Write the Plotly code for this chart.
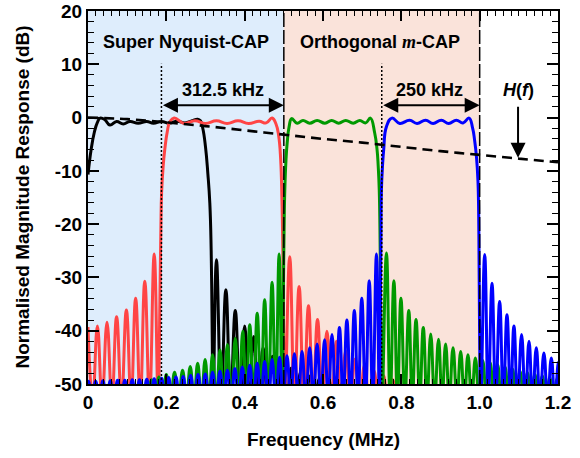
import plotly.graph_objects as go

# ---------------- axis ticks ----------------
x_tickvals = [0, 0.2, 0.4, 0.6, 0.8, 1.0, 1.2]
x_ticktext = ["0", "0.2", "0.4", "0.6", "0.8", "1.0", "1.2"]
y_tickvals = [20, 10, 0, -10, -20, -30, -40, -50]
y_ticktext = ["20", "10", "0", "-10", "-20", "-30", "-40", "-50"]

NULL_DB = -53     # spectral nulls lie just below the visible range

# ---------------- black: super-Nyquist band 1 ----------------
black_band_f = [0.000, 0.008, 0.016, 0.024, 0.031, 0.043, 0.056, 0.073, 0.090, 0.107, 0.128, 0.150,
                0.167, 0.188, 0.207, 0.228, 0.248, 0.266, 0.280, 0.287, 0.293, 0.300, 0.306, 0.311,
                0.3145, 0.317]
black_band_db = [-10.7, -6.0, -2.8, -0.9, -0.1, -0.4, -1.4, -0.75, -1.2, -0.75, -1.05, -0.75,
                 -1.05, -0.75, -1.05, -0.7, -1.0, -0.6, -0.3, -0.6, -2.0, -5.5, -10.5, -16.0,
                 -25.0, -40.0]
black_lobe_f = [0.328, 0.352, 0.376, 0.400, 0.423, 0.447, 0.471, 0.495, 0.519, 0.543, 0.567, 0.591,
                0.615, 0.639]
black_lobe_db = [-26.7, -32.3, -36.2, -39.1, -41.1, -43.2, -44.8, -46.0, -47.0, -47.8, -48.5, -49.0,
                 -49.4, -49.6]
black_null_f = [0.3195, 0.340, 0.364, 0.388, 0.4115, 0.435, 0.459, 0.483, 0.507, 0.531, 0.555, 0.579,
                0.603, 0.627, 0.651]

# ---------------- red: super-Nyquist band 2 ----------------
red_band_f = [0.1835, 0.186, 0.188, 0.192, 0.196, 0.2025, 0.209, 0.220, 0.246, 0.273, 0.300, 0.328,
              0.355, 0.383, 0.410, 0.437, 0.455, 0.470, 0.480, 0.487, 0.492, 0.495, 0.4975, 0.4995]
red_band_db = [-35.0, -21.0, -14.0, -9.0, -6.0, -2.6, -0.8, -0.1, -1.1, -0.6, -1.1, -0.6,
               -1.1, -0.6, -1.1, -0.7, -1.0, -0.1, -1.2, -3.5, -8.0, -15.0, -25.0, -40.0]
red_lobe_f = [0.000, 0.024, 0.0485, 0.073, 0.098, 0.1216, 0.145, 0.169,
              0.515, 0.539, 0.563, 0.586, 0.610, 0.634, 0.658, 0.682, 0.706, 0.730, 0.754, 0.778]
red_lobe_db = [-39.3, -39.1, -38.4, -37.4, -36.1, -33.9, -30.7, -25.6,
               -26.1, -31.7, -35.3, -37.9, -40.1, -42.0, -43.8, -45.3, -46.5, -47.5, -48.4, -49.2]
red_null_f = [0.012, 0.036, 0.061, 0.0855, 0.110, 0.1333, 0.157, 0.179,
              0.503, 0.527, 0.551, 0.5745, 0.598, 0.622, 0.646, 0.670, 0.694, 0.718, 0.742, 0.766, 0.790]

# ---------------- green: orthogonal m-CAP band 1 ----------------
green_band_f = [0.4985, 0.5005, 0.5025, 0.5055, 0.5085, 0.5135, 0.520, 0.534, 0.549, 0.566, 0.585,
                0.605, 0.622, 0.640, 0.658, 0.677, 0.694, 0.709, 0.721, 0.732, 0.738, 0.741, 0.7436,
                0.746, 0.748]
green_band_db = [-35.0, -22.0, -13.6, -8.0, -4.8, -1.7, -0.2, -1.05, -0.55, -1.05, -0.55,
                 -1.05, -0.55, -1.05, -0.55, -1.05, -0.55, -1.0, -0.1, -2.9, -6.0, -9.2, -13.6,
                 -25.0, -40.0]
green_lobe_f = [0.162, 0.181, 0.200, 0.221, 0.2415, 0.261, 0.280, 0.299, 0.318, 0.337, 0.356, 0.376,
                0.395, 0.413, 0.432, 0.451, 0.470, 0.488,
                0.762, 0.781, 0.799, 0.819, 0.8375, 0.856, 0.875, 0.895, 0.913, 0.932, 0.9515, 0.970,
                0.989, 1.008, 1.027, 1.046, 1.065, 1.084, 1.103, 1.122, 1.141, 1.160, 1.179, 1.198]
green_lobe_db = [-49.2, -48.7, -48.2, -47.8, -47.4, -46.7, -46.1, -45.4, -44.5, -43.6, -42.6, -41.4,
                 -40.1, -38.9, -36.7, -34.2, -30.9, -25.6,
                 -25.4, -30.6, -33.9, -36.2, -37.9, -39.4, -40.6, -41.6, -42.5, -43.2, -43.9, -44.5,
                 -45.1, -45.6, -46.0, -46.4, -46.8, -47.2, -47.6, -47.9, -48.2, -48.5, -48.8, -49.0]
green_null_f = [0.152, 0.1715, 0.1905, 0.2105, 0.231, 0.251, 0.2705, 0.2895, 0.3085, 0.3275, 0.3465,
                0.366, 0.3855, 0.404, 0.4225, 0.4415, 0.4605, 0.479, 0.4955,
                0.751, 0.7715, 0.790, 0.809, 0.828, 0.847, 0.8655, 0.885, 0.904, 0.9225, 0.942, 0.961,
                0.9795, 0.9985, 1.0175, 1.0365, 1.0555, 1.0745, 1.0935, 1.1125, 1.1315, 1.1505,
                1.1695, 1.1885, 1.2075]

# ---------------- blue: orthogonal m-CAP band 2 ----------------
blue_band_f = [0.7465, 0.748, 0.749, 0.752, 0.755, 0.762, 0.776, 0.796, 0.821, 0.840, 0.862, 0.881,
               0.902, 0.921, 0.9405, 0.9575, 0.973, 0.982, 0.987, 0.992, 0.9957, 0.998, 0.9995]
blue_band_db = [-35.0, -22.0, -14.0, -9.0, -6.0, -1.7, -0.1, -1.1, -0.5, -1.1, -0.5, -1.1,
                -0.5, -1.1, -0.5, -1.0, -0.1, -2.0, -4.2, -7.5, -12.0, -22.0, -38.0]
blue_lobe_f = [0.001, 0.0195, 0.038, 0.057, 0.0755, 0.094, 0.113, 0.1315, 0.150, 0.169, 0.188, 0.206,
               0.2245, 0.243, 0.262, 0.281, 0.2995, 0.318, 0.337, 0.356, 0.375, 0.394, 0.413, 0.432,
               0.451, 0.470, 0.489, 0.508, 0.527, 0.5465, 0.566, 0.585, 0.604, 0.623, 0.642, 0.661,
               0.680, 0.699, 0.718, 0.7365,
               1.0128, 1.0315, 1.051, 1.0697, 1.0875, 1.107, 1.126, 1.1446, 1.164, 1.183, 1.2015]
blue_lobe_db = [-49.5, -49.5, -49.4, -49.4, -49.3, -49.3, -49.2, -49.2, -49.1, -49.0, -48.9, -48.8,
                -48.7, -48.6, -48.4, -48.2, -48.1, -47.8, -47.6, -47.4, -47.1, -46.8, -46.5, -46.1,
                -45.8, -45.4, -45.0, -44.7, -44.3, -43.9, -43.2, -42.5, -41.7, -40.7, -39.4, -38.0,
                -36.2, -33.9, -30.6, -25.6,
                -25.7, -31.1, -34.5, -37.0, -39.1, -40.7, -42.0, -43.2, -44.2, -45.1, -45.9]
blue_null_f = [-0.008, 0.010, 0.029, 0.0475, 0.066, 0.085, 0.1035, 0.122, 0.141, 0.1595, 0.1785, 0.197,
               0.215, 0.234, 0.2525, 0.2715, 0.290, 0.309, 0.3275, 0.3465, 0.3655, 0.3845, 0.4035,
               0.4225, 0.4415, 0.4605, 0.4795, 0.4985, 0.5175, 0.537, 0.556, 0.5755, 0.5945, 0.6135,
               0.6325, 0.6515, 0.6705, 0.6895, 0.7085, 0.727, 0.744,
               1.003, 1.022, 1.041, 1.0605, 1.079, 1.097, 1.1165, 1.135, 1.154, 1.1735, 1.192, 1.211]

# ---------------- channel response H(f) ----------------
hf_f = [0.0, 0.1, 0.2, 0.3, 0.4, 0.5, 0.6, 0.7, 0.8, 0.9, 1.0, 1.1, 1.2]
hf_db = [0.0, -0.3, -0.9, -1.6, -2.4, -3.2, -4.0, -4.7, -5.5, -6.3, -7.0, -7.7, -8.4]

# ---------------- regions / markers ----------------
snc_region = [0.0, 0.5]
ocap_region = [0.5, 1.0]
band_marks = [0.1875, 0.75]
region_edges = [0.5, 1.0]


def build(band_f, band_db, lobe_f, lobe_db, null_f):
    """Merge passband points, side-lobe peaks and nulls into one frequency-sorted path."""
    pts = list(zip(band_f, band_db)) + list(zip(lobe_f, lobe_db)) + [(f, NULL_DB) for f in null_f]
    pts.sort()
    return [p[0] for p in pts], [p[1] for p in pts]


FONT = "Liberation Sans, Arial, Helvetica, sans-serif"

fig = go.Figure()

curves = [
    ("black", black_band_f, black_band_db, black_lobe_f, black_lobe_db, black_null_f),
    ("#FF4545", red_band_f, red_band_db, red_lobe_f, red_lobe_db, red_null_f),
    ("#009900", green_band_f, green_band_db, green_lobe_f, green_lobe_db, green_null_f),
    ("#0000FF", blue_band_f, blue_band_db, blue_lobe_f, blue_lobe_db, blue_null_f),
]
for color, bf, bd, lf, ld, nf in curves:
    xs, ys = build(bf, bd, lf, ld, nf)
    fig.add_trace(go.Scatter(x=xs, y=ys, mode="lines",
                             line=dict(color=color, width=3, shape="spline", smoothing=1.3),
                             hoverinfo="skip"))

fig.add_trace(go.Scatter(x=hf_f, y=hf_db, mode="lines",
                         line=dict(color="black", width=2.6, dash="10px,6px", shape="spline"),
                         hoverinfo="skip"))

shapes = [
    dict(type="rect", xref="x", yref="y", x0=snc_region[0], x1=snc_region[1], y0=-50, y1=20,
         fillcolor="#DEEDFC", line=dict(width=0), layer="below"),
    dict(type="rect", xref="x", yref="y", x0=ocap_region[0], x1=ocap_region[1], y0=-50, y1=20,
         fillcolor="#FAE3DA", line=dict(width=0), layer="below"),
]
for xe in region_edges:
    shapes.append(dict(type="line", xref="x", yref="y", x0=xe, x1=xe, y0=-50, y1=20,
                       line=dict(color="black", width=1.5, dash="14px,3px"), layer="above"))
for xm in band_marks:
    shapes.append(dict(type="line", xref="x", yref="y", x0=xm, x1=xm, y0=-50, y1=10.1,
                       line=dict(color="black", width=1.5, dash="2px,2px"), layer="above"))
fig.update_layout(shapes=shapes)

ann_font = dict(family=FONT, size=18, color="black", weight="bold")
annotations = [
    # double arrows
    dict(x=region_edges[0], y=2.3, ax=band_marks[0], ay=2.3, xref="x", yref="y", axref="x", ayref="y",
         text="", showarrow=True, arrowhead=2, startarrowhead=2, arrowside="end+start",
         arrowsize=1.5, startarrowsize=1.5, arrowwidth=2, arrowcolor="black", standoff=0, startstandoff=0),
    dict(x=region_edges[1], y=2.3, ax=band_marks[1], ay=2.3, xref="x", yref="y", axref="x", ayref="y",
         text="", showarrow=True, arrowhead=2, startarrowhead=2, arrowside="end+start",
         arrowsize=1.5, startarrowsize=1.5, arrowwidth=2, arrowcolor="black", standoff=0, startstandoff=0),
    # H(f) pointer
    dict(x=1.098, y=-7.55, ax=1.098, ay=2.3, xref="x", yref="y", axref="x", ayref="y",
         text="", showarrow=True, arrowhead=2, arrowsize=1.5, arrowwidth=2, arrowcolor="black", standoff=0),
    dict(x=0.344, y=5.2, xref="x", yref="y", text="312.5 kHz", showarrow=False, font=ann_font),
    dict(x=0.872, y=5.2, xref="x", yref="y", text="250 kHz", showarrow=False, font=ann_font),
    dict(x=1.098, y=5.2, xref="x", yref="y", text="<i>H</i>(<i>f</i>)", showarrow=False, font=ann_font),
    dict(x=0.25, y=14.25, xref="x", yref="y", text="Super Nyquist-CAP", showarrow=False, font=ann_font),
    dict(x=0.745, y=14.25, xref="x", yref="y",
         text="Orthogonal <span style=\"font-family:'Liberation Serif',serif\"><i>m</i></span>-CAP",
         showarrow=False, font=ann_font),
    # axis titles
    dict(x=-0.1404, y=0.5, xref="paper", yref="paper", xanchor="center", yanchor="middle",
         text="Normalised Magnitude Response (dB)",
         textangle=-90, showarrow=False, font=dict(family=FONT, size=19, color="black", weight="bold")),
    dict(x=0.5, y=-0.150, xref="paper", yref="paper", xanchor="center", yanchor="middle",
         text="Frequency (MHz)",
         showarrow=False, font=dict(family=FONT, size=19, color="black", weight="bold")),
]
fig.update_layout(annotations=annotations)

fig.update_layout(
    width=580, height=458,
    margin=dict(l=88, r=22, t=11, b=74, autoexpand=False),
    plot_bgcolor="white", paper_bgcolor="white",
    showlegend=False,
    font=dict(family=FONT, size=18, color="black"),
)
tickfont = dict(family=FONT, size=19, color="black", weight="bold")
fig.update_xaxes(range=[0, 1.2], tickvals=x_tickvals, ticktext=x_ticktext, automargin=False,
                 ticks="inside", ticklen=10, tickwidth=1.5, tickcolor="black",
                 showline=True, linewidth=2, linecolor="black", mirror="ticks",
                 showgrid=False, zeroline=False, tickfont=tickfont,
                 minor=dict(dtick=0.02, tick0=0, ticks="inside", ticklen=5, tickwidth=1.2,
                            tickcolor="black", showgrid=False))
fig.update_yaxes(range=[-50, 20], tickvals=y_tickvals, ticktext=y_ticktext, automargin=False,
                 ticks="inside", ticklen=11, tickwidth=1.5, tickcolor="black",
                 showline=True, linewidth=2, linecolor="black", mirror="ticks",
                 showgrid=False, zeroline=False, tickfont=tickfont,
                 minor=dict(dtick=2, tick0=0, ticks="inside", ticklen=6, tickwidth=1.2,
                            tickcolor="black", showgrid=False))

fig.write_html("out.html", config={"displayModeBar": False},
               post_script="document.body.style.margin='0px';document.body.style.overflow='hidden';")
